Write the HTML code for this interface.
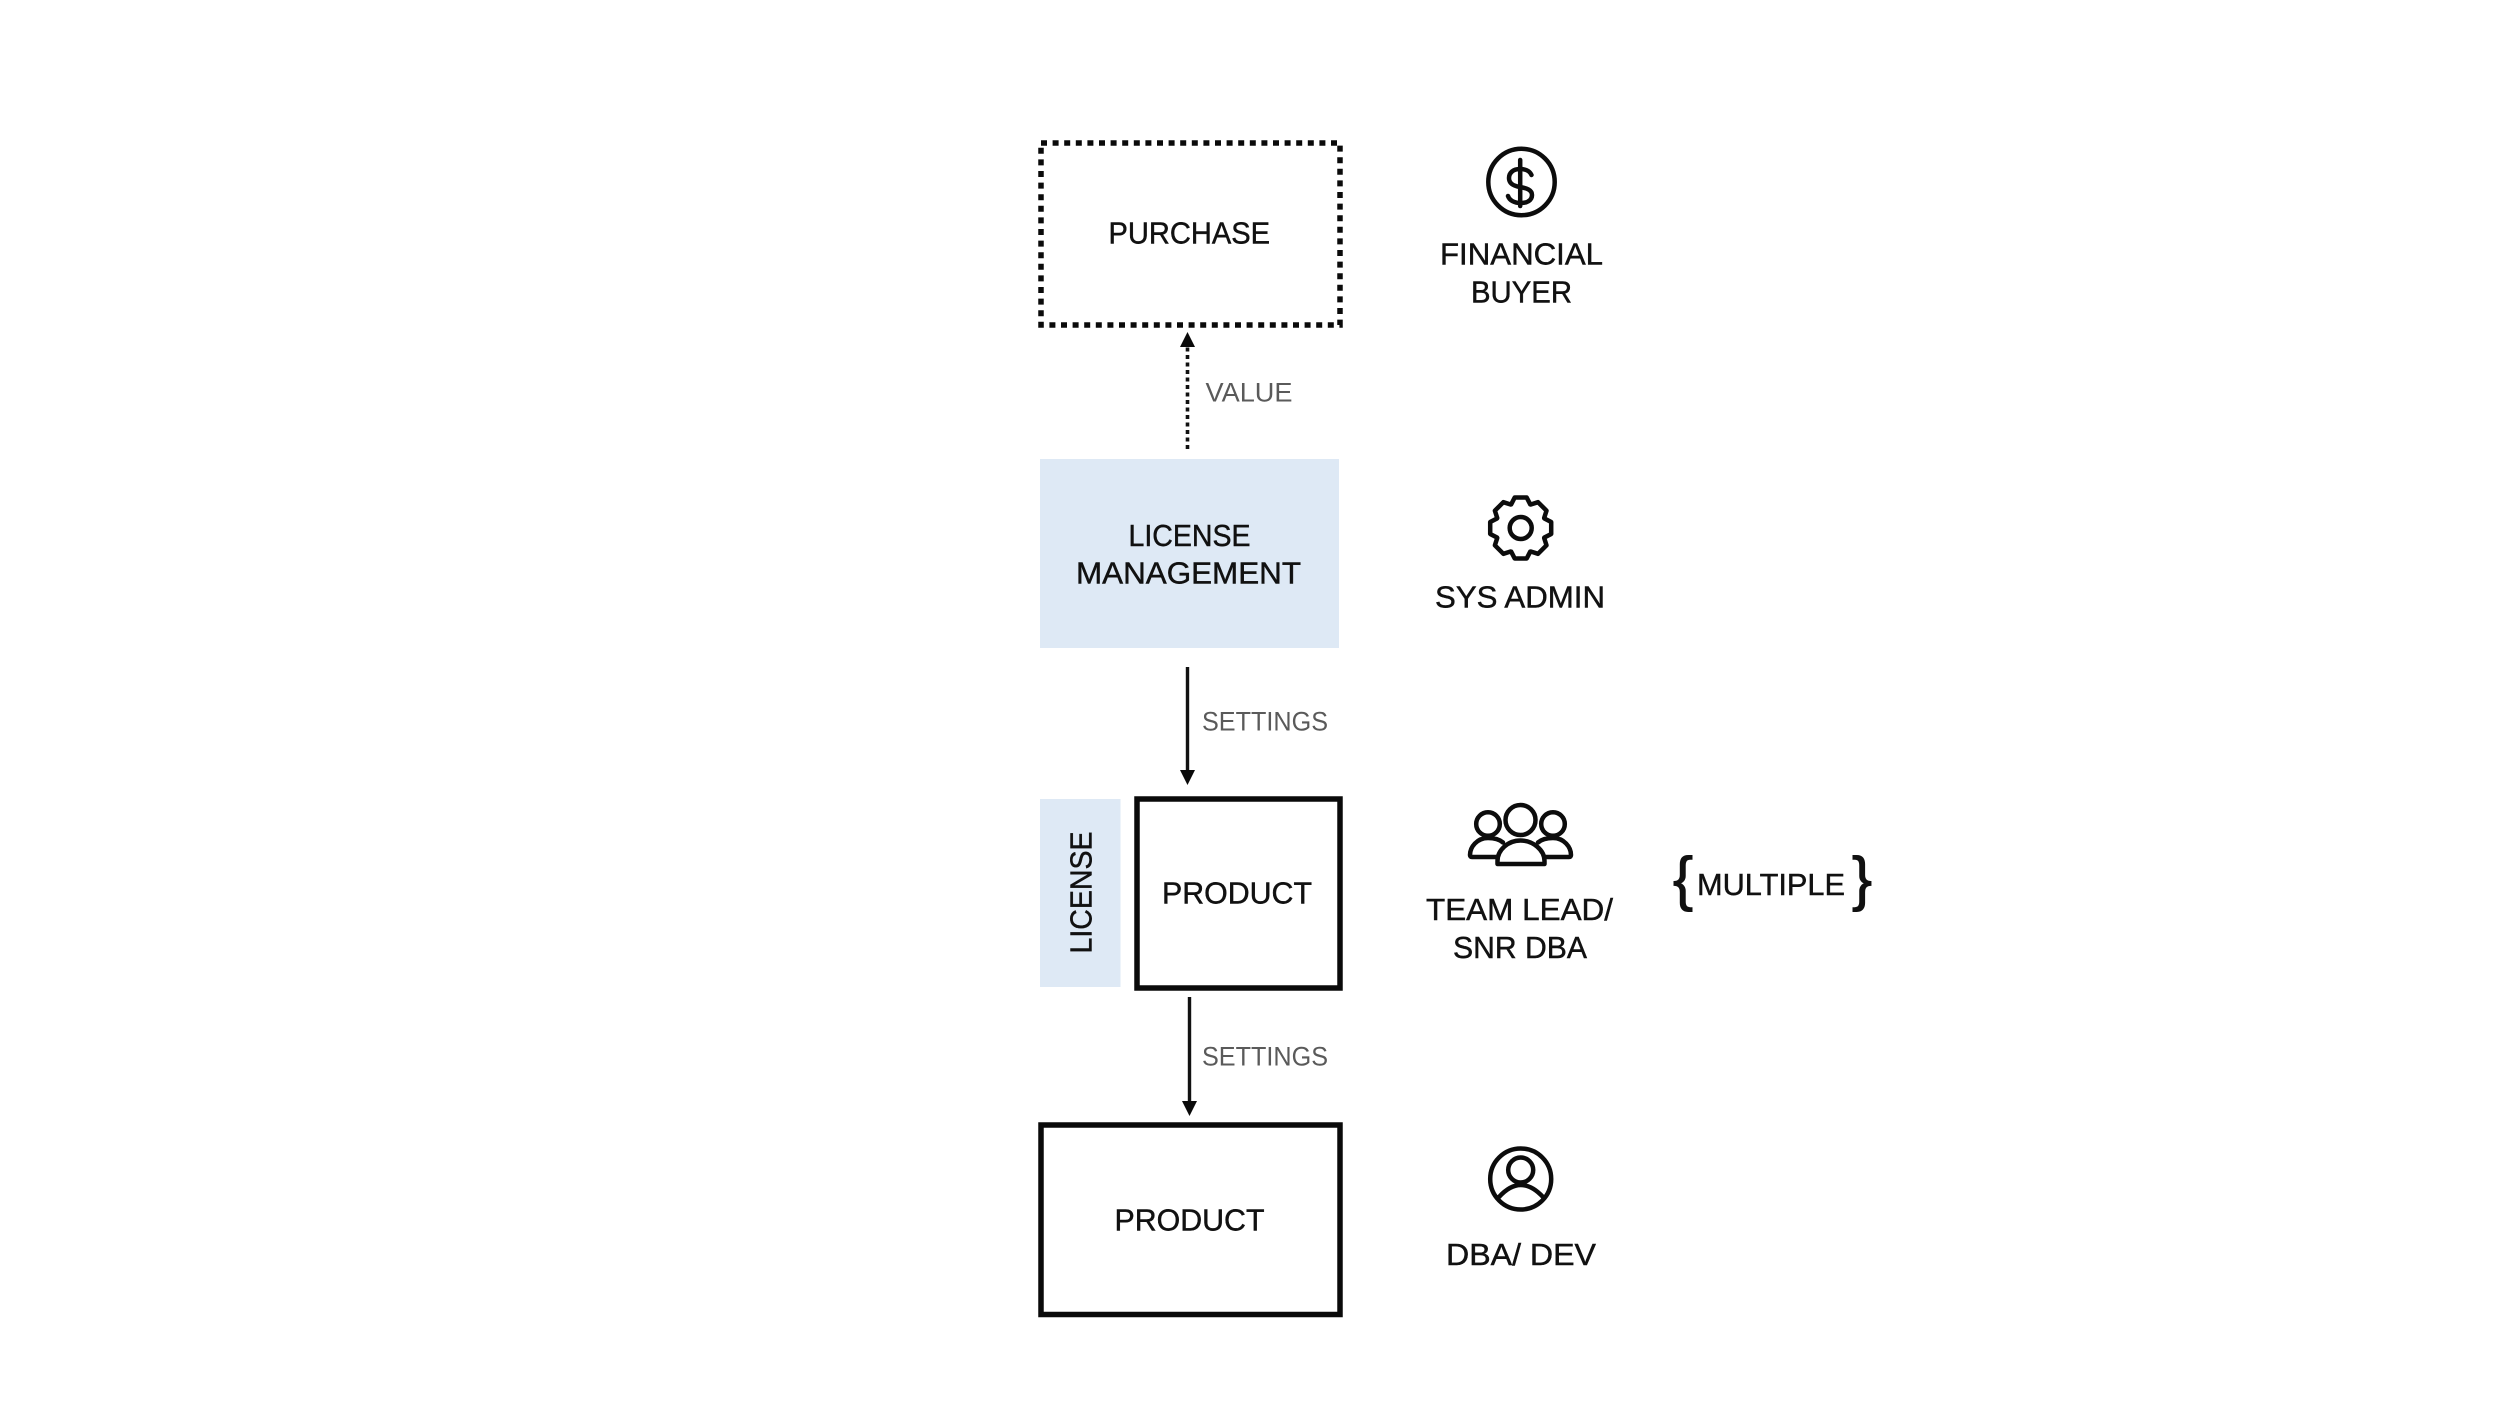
<!DOCTYPE html>
<html lang="en">
<head>
<meta charset="utf-8">
<title>License diagram</title>
<style>
html,body{margin:0;padding:0;background:#fff;width:2500px;height:1406px;overflow:hidden}
svg{display:block}
text{font-family:"Liberation Sans",sans-serif;font-size:31px;fill:#111;stroke:#111;stroke-width:.45}
.lab{font-size:27px;fill:#5a5a5a;stroke:none}
.ico{fill:none;stroke:#0c0c0c;stroke-width:4.5;stroke-linecap:round;stroke-linejoin:round}
</style>
</head>
<body>
<svg width="2500" height="1406" viewBox="0 0 2500 1406" xmlns="http://www.w3.org/2000/svg">
<rect width="2500" height="1406" fill="#fff"/>

<!-- boxes -->
<rect x="1041" y="143" width="299" height="182" fill="none" stroke="#0a0a0a" stroke-width="5.5" stroke-dasharray="6 5.6"/>
<rect x="1040" y="459" width="299" height="189" fill="#dee9f5"/>
<rect x="1040" y="799" width="80.5" height="188" fill="#dee9f5"/>
<rect x="1137" y="799" width="203" height="189" fill="none" stroke="#0a0a0a" stroke-width="5.5"/>
<rect x="1041" y="1125" width="299" height="189.5" fill="none" stroke="#0a0a0a" stroke-width="5.5"/>

<!-- connectors -->
<line x1="1187.5" y1="449" x2="1187.5" y2="346" stroke="#111" stroke-width="3.6" stroke-dasharray="4 3.5"/>
<polygon points="1187.5,332 1195,347 1180,347" fill="#0a0a0a"/>
<line x1="1187.5" y1="667" x2="1187.5" y2="772" stroke="#111" stroke-width="3.4"/>
<polygon points="1187.5,785 1195,770 1180,770" fill="#0a0a0a"/>
<line x1="1189.5" y1="997" x2="1189.5" y2="1103" stroke="#111" stroke-width="3.4"/>
<polygon points="1189.5,1116 1197,1101 1182,1101" fill="#0a0a0a"/>

<!-- box labels -->
<text x="1108.500" y="243.500" textLength="161.500" lengthAdjust="spacingAndGlyphs">PURCHASE</text>
<text x="1128.500" y="546" textLength="122" lengthAdjust="spacingAndGlyphs">LICENSE</text>
<text x="1076" y="583.500" textLength="225" lengthAdjust="spacingAndGlyphs">MANAGEMENT</text>
<text transform="translate(1091.500,953.500) rotate(-90)" textLength="122" lengthAdjust="spacingAndGlyphs">LICENSE</text>
<text x="1162" y="903.500" textLength="150" lengthAdjust="spacingAndGlyphs">PRODUCT</text>
<text x="1114.500" y="1230.500" textLength="150" lengthAdjust="spacingAndGlyphs">PRODUCT</text>

<!-- connector labels -->
<text class="lab" x="1205.500" y="401.500" textLength="87" lengthAdjust="spacingAndGlyphs">VALUE</text>
<text class="lab" x="1202" y="730.500" textLength="126" lengthAdjust="spacingAndGlyphs">SETTINGS</text>
<text class="lab" x="1202" y="1065.500" textLength="126" lengthAdjust="spacingAndGlyphs">SETTINGS</text>

<!-- role labels -->
<text x="1440" y="264.500" textLength="163" lengthAdjust="spacingAndGlyphs">FINANCIAL</text>
<text x="1471" y="302.500" textLength="101" lengthAdjust="spacingAndGlyphs">BUYER</text>
<text x="1435" y="607.500" textLength="170" lengthAdjust="spacingAndGlyphs">SYS ADMIN</text>
<text x="1426" y="920" textLength="187" lengthAdjust="spacingAndGlyphs">TEAM LEAD/</text>
<text x="1453" y="958" textLength="134" lengthAdjust="spacingAndGlyphs">SNR DBA</text>
<text x="1446" y="1265" textLength="150" lengthAdjust="spacingAndGlyphs">DBA/ DEV</text>
<text x="1697" y="895" textLength="148" lengthAdjust="spacingAndGlyphs">MULTIPLE</text>
<text x="1673" y="899" style="font-size:60px;stroke-width:1">{</text>
<text x="1852" y="899" style="font-size:60px;stroke-width:1">}</text>

<!-- dollar icon -->
<g class="ico">
<circle cx="1521.500" cy="182" r="33.200"/>
<g transform="translate(-2.500,0)">
<path d="M1522.700 160V206"/>
<path d="M1534 175C1532 170.500 1527 169 1522.500 169C1515.500 169 1511.500 173 1511.500 178C1511.500 184 1516.500 186 1522.500 187C1529.500 188.200 1534.500 190 1534.500 195C1534.500 200.500 1529.500 203 1523 203C1517 203 1512 200.500 1510.500 196"/>
</g>
</g>

<!-- gear icon -->
<g class="ico" transform="translate(1520.7,528)">
<circle r="11"/>
<path d="M-9.500 -23.700L-6 -30.500H6L9.500 -23.700"/>
<path transform="rotate(45)" d="M-9.500 -23.700L-6 -30.500H6L9.500 -23.700"/>
<path transform="rotate(90)" d="M-9.500 -23.700L-6 -30.500H6L9.500 -23.700"/>
<path transform="rotate(135)" d="M-9.500 -23.700L-6 -30.500H6L9.500 -23.700"/>
<path transform="rotate(180)" d="M-9.500 -23.700L-6 -30.500H6L9.500 -23.700"/>
<path transform="rotate(225)" d="M-9.500 -23.700L-6 -30.500H6L9.500 -23.700"/>
<path transform="rotate(270)" d="M-9.500 -23.700L-6 -30.500H6L9.500 -23.700"/>
<path transform="rotate(315)" d="M-9.500 -23.700L-6 -30.500H6L9.500 -23.700"/>
</g>

<!-- team icon -->
<g class="ico">
<circle cx="1520.500" cy="820" r="15"/>
<circle cx="1488" cy="824" r="11.800"/>
<circle cx="1553" cy="824" r="11.800"/>
<path d="M1497.500 864V861C1497.500 850 1508 840.500 1520.500 840.500C1533 840.500 1544.500 850 1544.500 861V864Z"/>
<path d="M1503 842.500C1499 839 1493 838 1488 838C1477 838 1470 847 1470 855Q1470 857 1472 857H1496"/>
<path d="M1538 842.500C1542 839 1548 838 1553 838C1564 838 1571 847 1571 855Q1571 857 1569 857H1545"/>
</g>

<!-- user icon -->
<g class="ico">
<circle cx="1520.700" cy="1179" r="30.500"/>
<circle cx="1520.700" cy="1170" r="12.500"/>
<path d="M1499 1197Q1520.700 1173 1543 1197"/>
</g>
</svg>
</body>
</html>
